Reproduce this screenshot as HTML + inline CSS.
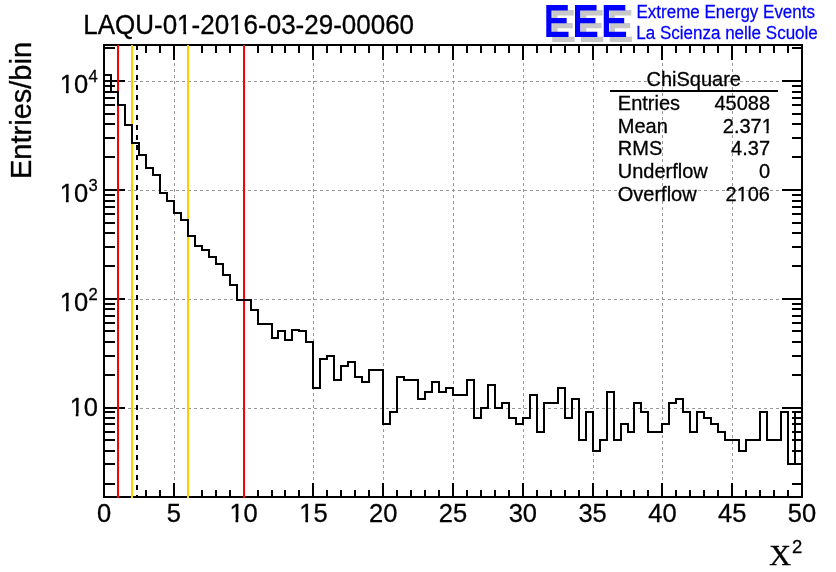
<!DOCTYPE html>
<html><head><meta charset="utf-8"><title>LAQU-01-2016-03-29-00060</title>
<style>html,body{margin:0;padding:0;background:#fff}svg{display:block}text{font-family:"Liberation Sans",sans-serif;fill:#000}</style></head><body>
<svg width="836" height="572" viewBox="0 0 836 572">
<rect width="836" height="572" fill="#fff"/>
<g stroke="#999999" stroke-width="1" stroke-dasharray="3 3" shape-rendering="crispEdges" fill="none">
<line x1="174.5" y1="45" x2="174.5" y2="497"/>
<line x1="244.5" y1="45" x2="244.5" y2="497"/>
<line x1="313.5" y1="45" x2="313.5" y2="497"/>
<line x1="383.5" y1="45" x2="383.5" y2="497"/>
<line x1="453.5" y1="45" x2="453.5" y2="497"/>
<line x1="523.5" y1="45" x2="523.5" y2="497"/>
<line x1="593.5" y1="45" x2="593.5" y2="497"/>
<line x1="662.5" y1="45" x2="662.5" y2="497"/>
<line x1="732.5" y1="45" x2="732.5" y2="497"/>
<line x1="104" y1="408.5" x2="802" y2="408.5"/>
<line x1="104" y1="299.5" x2="802" y2="299.5"/>
<line x1="104" y1="190.5" x2="802" y2="190.5"/>
<line x1="104" y1="81.5" x2="802" y2="81.5"/>
</g>
<g stroke="#000" stroke-width="2" shape-rendering="crispEdges" fill="none">
<rect x="104" y="45" width="698" height="452"/>
<line x1="104" y1="483" x2="104" y2="498"/><line x1="104" y1="44" x2="104" y2="60"/>
<line x1="118" y1="490" x2="118" y2="498"/><line x1="118" y1="44" x2="118" y2="53"/>
<line x1="132" y1="490" x2="132" y2="498"/><line x1="132" y1="44" x2="132" y2="53"/>
<line x1="146" y1="490" x2="146" y2="498"/><line x1="146" y1="44" x2="146" y2="53"/>
<line x1="160" y1="490" x2="160" y2="498"/><line x1="160" y1="44" x2="160" y2="53"/>
<line x1="174" y1="483" x2="174" y2="498"/><line x1="174" y1="44" x2="174" y2="60"/>
<line x1="188" y1="490" x2="188" y2="498"/><line x1="188" y1="44" x2="188" y2="53"/>
<line x1="202" y1="490" x2="202" y2="498"/><line x1="202" y1="44" x2="202" y2="53"/>
<line x1="216" y1="490" x2="216" y2="498"/><line x1="216" y1="44" x2="216" y2="53"/>
<line x1="230" y1="490" x2="230" y2="498"/><line x1="230" y1="44" x2="230" y2="53"/>
<line x1="244" y1="483" x2="244" y2="498"/><line x1="244" y1="44" x2="244" y2="60"/>
<line x1="258" y1="490" x2="258" y2="498"/><line x1="258" y1="44" x2="258" y2="53"/>
<line x1="272" y1="490" x2="272" y2="498"/><line x1="272" y1="44" x2="272" y2="53"/>
<line x1="285" y1="490" x2="285" y2="498"/><line x1="285" y1="44" x2="285" y2="53"/>
<line x1="299" y1="490" x2="299" y2="498"/><line x1="299" y1="44" x2="299" y2="53"/>
<line x1="313" y1="483" x2="313" y2="498"/><line x1="313" y1="44" x2="313" y2="60"/>
<line x1="327" y1="490" x2="327" y2="498"/><line x1="327" y1="44" x2="327" y2="53"/>
<line x1="341" y1="490" x2="341" y2="498"/><line x1="341" y1="44" x2="341" y2="53"/>
<line x1="355" y1="490" x2="355" y2="498"/><line x1="355" y1="44" x2="355" y2="53"/>
<line x1="369" y1="490" x2="369" y2="498"/><line x1="369" y1="44" x2="369" y2="53"/>
<line x1="383" y1="483" x2="383" y2="498"/><line x1="383" y1="44" x2="383" y2="60"/>
<line x1="397" y1="490" x2="397" y2="498"/><line x1="397" y1="44" x2="397" y2="53"/>
<line x1="411" y1="490" x2="411" y2="498"/><line x1="411" y1="44" x2="411" y2="53"/>
<line x1="425" y1="490" x2="425" y2="498"/><line x1="425" y1="44" x2="425" y2="53"/>
<line x1="439" y1="490" x2="439" y2="498"/><line x1="439" y1="44" x2="439" y2="53"/>
<line x1="453" y1="483" x2="453" y2="498"/><line x1="453" y1="44" x2="453" y2="60"/>
<line x1="467" y1="490" x2="467" y2="498"/><line x1="467" y1="44" x2="467" y2="53"/>
<line x1="481" y1="490" x2="481" y2="498"/><line x1="481" y1="44" x2="481" y2="53"/>
<line x1="495" y1="490" x2="495" y2="498"/><line x1="495" y1="44" x2="495" y2="53"/>
<line x1="509" y1="490" x2="509" y2="498"/><line x1="509" y1="44" x2="509" y2="53"/>
<line x1="523" y1="483" x2="523" y2="498"/><line x1="523" y1="44" x2="523" y2="60"/>
<line x1="537" y1="490" x2="537" y2="498"/><line x1="537" y1="44" x2="537" y2="53"/>
<line x1="551" y1="490" x2="551" y2="498"/><line x1="551" y1="44" x2="551" y2="53"/>
<line x1="565" y1="490" x2="565" y2="498"/><line x1="565" y1="44" x2="565" y2="53"/>
<line x1="579" y1="490" x2="579" y2="498"/><line x1="579" y1="44" x2="579" y2="53"/>
<line x1="593" y1="483" x2="593" y2="498"/><line x1="593" y1="44" x2="593" y2="60"/>
<line x1="607" y1="490" x2="607" y2="498"/><line x1="607" y1="44" x2="607" y2="53"/>
<line x1="621" y1="490" x2="621" y2="498"/><line x1="621" y1="44" x2="621" y2="53"/>
<line x1="634" y1="490" x2="634" y2="498"/><line x1="634" y1="44" x2="634" y2="53"/>
<line x1="648" y1="490" x2="648" y2="498"/><line x1="648" y1="44" x2="648" y2="53"/>
<line x1="662" y1="483" x2="662" y2="498"/><line x1="662" y1="44" x2="662" y2="60"/>
<line x1="676" y1="490" x2="676" y2="498"/><line x1="676" y1="44" x2="676" y2="53"/>
<line x1="690" y1="490" x2="690" y2="498"/><line x1="690" y1="44" x2="690" y2="53"/>
<line x1="704" y1="490" x2="704" y2="498"/><line x1="704" y1="44" x2="704" y2="53"/>
<line x1="718" y1="490" x2="718" y2="498"/><line x1="718" y1="44" x2="718" y2="53"/>
<line x1="732" y1="483" x2="732" y2="498"/><line x1="732" y1="44" x2="732" y2="60"/>
<line x1="746" y1="490" x2="746" y2="498"/><line x1="746" y1="44" x2="746" y2="53"/>
<line x1="760" y1="490" x2="760" y2="498"/><line x1="760" y1="44" x2="760" y2="53"/>
<line x1="774" y1="490" x2="774" y2="498"/><line x1="774" y1="44" x2="774" y2="53"/>
<line x1="788" y1="490" x2="788" y2="498"/><line x1="788" y1="44" x2="788" y2="53"/>
<line x1="802" y1="483" x2="802" y2="498"/><line x1="802" y1="44" x2="802" y2="60"/>
<line x1="103" y1="484" x2="115" y2="484"/><line x1="792" y1="484" x2="803" y2="484"/>
<line x1="103" y1="464" x2="115" y2="464"/><line x1="792" y1="464" x2="803" y2="464"/>
<line x1="103" y1="451" x2="115" y2="451"/><line x1="792" y1="451" x2="803" y2="451"/>
<line x1="103" y1="440" x2="115" y2="440"/><line x1="792" y1="440" x2="803" y2="440"/>
<line x1="103" y1="432" x2="115" y2="432"/><line x1="792" y1="432" x2="803" y2="432"/>
<line x1="103" y1="424" x2="115" y2="424"/><line x1="792" y1="424" x2="803" y2="424"/>
<line x1="103" y1="418" x2="115" y2="418"/><line x1="792" y1="418" x2="803" y2="418"/>
<line x1="103" y1="412" x2="115" y2="412"/><line x1="792" y1="412" x2="803" y2="412"/>
<line x1="103" y1="408" x2="125" y2="408"/><line x1="782" y1="408" x2="803" y2="408"/>
<line x1="103" y1="375" x2="115" y2="375"/><line x1="792" y1="375" x2="803" y2="375"/>
<line x1="103" y1="356" x2="115" y2="356"/><line x1="792" y1="356" x2="803" y2="356"/>
<line x1="103" y1="342" x2="115" y2="342"/><line x1="792" y1="342" x2="803" y2="342"/>
<line x1="103" y1="331" x2="115" y2="331"/><line x1="792" y1="331" x2="803" y2="331"/>
<line x1="103" y1="323" x2="115" y2="323"/><line x1="792" y1="323" x2="803" y2="323"/>
<line x1="103" y1="316" x2="115" y2="316"/><line x1="792" y1="316" x2="803" y2="316"/>
<line x1="103" y1="309" x2="115" y2="309"/><line x1="792" y1="309" x2="803" y2="309"/>
<line x1="103" y1="304" x2="115" y2="304"/><line x1="792" y1="304" x2="803" y2="304"/>
<line x1="103" y1="299" x2="125" y2="299"/><line x1="782" y1="299" x2="803" y2="299"/>
<line x1="103" y1="266" x2="115" y2="266"/><line x1="792" y1="266" x2="803" y2="266"/>
<line x1="103" y1="247" x2="115" y2="247"/><line x1="792" y1="247" x2="803" y2="247"/>
<line x1="103" y1="233" x2="115" y2="233"/><line x1="792" y1="233" x2="803" y2="233"/>
<line x1="103" y1="223" x2="115" y2="223"/><line x1="792" y1="223" x2="803" y2="223"/>
<line x1="103" y1="214" x2="115" y2="214"/><line x1="792" y1="214" x2="803" y2="214"/>
<line x1="103" y1="207" x2="115" y2="207"/><line x1="792" y1="207" x2="803" y2="207"/>
<line x1="103" y1="201" x2="115" y2="201"/><line x1="792" y1="201" x2="803" y2="201"/>
<line x1="103" y1="195" x2="115" y2="195"/><line x1="792" y1="195" x2="803" y2="195"/>
<line x1="103" y1="190" x2="125" y2="190"/><line x1="782" y1="190" x2="803" y2="190"/>
<line x1="103" y1="157" x2="115" y2="157"/><line x1="792" y1="157" x2="803" y2="157"/>
<line x1="103" y1="138" x2="115" y2="138"/><line x1="792" y1="138" x2="803" y2="138"/>
<line x1="103" y1="124" x2="115" y2="124"/><line x1="792" y1="124" x2="803" y2="124"/>
<line x1="103" y1="114" x2="115" y2="114"/><line x1="792" y1="114" x2="803" y2="114"/>
<line x1="103" y1="105" x2="115" y2="105"/><line x1="792" y1="105" x2="803" y2="105"/>
<line x1="103" y1="98" x2="115" y2="98"/><line x1="792" y1="98" x2="803" y2="98"/>
<line x1="103" y1="92" x2="115" y2="92"/><line x1="792" y1="92" x2="803" y2="92"/>
<line x1="103" y1="86" x2="115" y2="86"/><line x1="792" y1="86" x2="803" y2="86"/>
<line x1="103" y1="81" x2="125" y2="81"/><line x1="782" y1="81" x2="803" y2="81"/>
<line x1="103" y1="48" x2="115" y2="48"/><line x1="792" y1="48" x2="803" y2="48"/>
</g>
<g stroke-width="2" shape-rendering="crispEdges">
<line x1="118" y1="45" x2="118" y2="498" stroke="#ff0000"/>
<line x1="244" y1="45" x2="244" y2="498" stroke="#ff0000"/>
<line x1="132" y1="45" x2="132" y2="498" stroke="#ffcc00"/>
<line x1="188" y1="45" x2="188" y2="498" stroke="#ffcc00"/>
<line x1="137" y1="45" x2="137" y2="498" stroke="#000" stroke-dasharray="5 5"/>
</g>
<path d="M104 497 L104 75 L111 75 L111 92 L118 92 L118 105 L125 105 L125 125 L132 125 L132 143 L139 143 L139 155 L146 155 L146 168 L153 168 L153 175 L160 175 L160 193 L167 193 L167 201 L174 201 L174 213 L181 213 L181 220 L188 220 L188 236 L195 236 L195 246 L202 246 L202 250 L209 250 L209 257 L216 257 L216 264 L223 264 L223 275 L230 275 L230 285 L237 285 L237 300 L244 300 L244 300 L251 300 L251 310 L258 310 L258 324 L265 324 L265 324 L272 324 L272 338 L278 338 L278 331 L285 331 L285 340 L292 340 L292 330 L299 330 L299 331 L306 331 L306 342 L313 342 L313 388 L320 388 L320 359 L327 359 L327 356 L334 356 L334 380 L341 380 L341 366 L348 366 L348 362 L355 362 L355 377 L362 377 L362 382 L369 382 L369 370 L376 370 L376 370 L383 370 L383 424 L390 424 L390 412 L397 412 L397 377 L404 377 L404 380 L411 380 L411 380 L418 380 L418 399 L425 399 L425 392 L432 392 L432 382 L439 382 L439 392 L446 392 L446 388 L453 388 L453 395 L460 395 L460 395 L467 395 L467 380 L474 380 L474 418 L481 418 L481 408 L488 408 L488 385 L495 385 L495 408 L502 408 L502 403 L509 403 L509 418 L516 418 L516 424 L523 424 L523 418 L530 418 L530 395 L537 395 L537 432 L544 432 L544 403 L551 403 L551 403 L558 403 L558 388 L565 388 L565 418 L572 418 L572 399 L579 399 L579 440 L586 440 L586 412 L593 412 L593 451 L600 451 L600 440 L607 440 L607 392 L614 392 L614 440 L621 440 L621 424 L628 424 L628 432 L634 432 L634 403 L641 403 L641 412 L648 412 L648 432 L655 432 L655 432 L662 432 L662 424 L669 424 L669 403 L676 403 L676 399 L683 399 L683 412 L690 412 L690 432 L697 432 L697 412 L704 412 L704 418 L711 418 L711 424 L718 424 L718 432 L725 432 L725 440 L732 440 L732 440 L739 440 L739 451 L746 451 L746 440 L753 440 L753 440 L760 440 L760 412 L767 412 L767 440 L774 440 L774 440 L781 440 L781 412 L788 412 L788 464 L795 464 L795 464 L802 464 L802 497" fill="none" stroke="#000" stroke-width="2" stroke-linejoin="miter" stroke-linecap="square" shape-rendering="crispEdges"/>
<line x1="795" y1="412" x2="795" y2="464" stroke="#000" stroke-width="2" shape-rendering="crispEdges"/>
<text transform="translate(104.0,521.5) scale(1.0,1.04)" font-size="25.5px" text-anchor="middle" style="fill:#000;stroke:#000;stroke-width:0.3px" >0</text>
<text transform="translate(173.8,521.5) scale(1.0,1.04)" font-size="25.5px" text-anchor="middle" style="fill:#000;stroke:#000;stroke-width:0.3px" >5</text>
<text transform="translate(243.6,521.5) scale(1.0,1.04)" font-size="25.5px" text-anchor="middle" style="fill:#000;stroke:#000;stroke-width:0.3px" >10</text><rect x="229.91" y="519.00" width="5.62" height="4.00" fill="#fff"/><rect x="238.23" y="519.00" width="5.53" height="4.00" fill="#fff"/>
<text transform="translate(313.4,521.5) scale(1.0,1.04)" font-size="25.5px" text-anchor="middle" style="fill:#000;stroke:#000;stroke-width:0.3px" >15</text><rect x="299.71" y="519.00" width="5.62" height="4.00" fill="#fff"/><rect x="308.03" y="519.00" width="5.53" height="4.00" fill="#fff"/>
<text transform="translate(383.2,521.5) scale(1.0,1.04)" font-size="25.5px" text-anchor="middle" style="fill:#000;stroke:#000;stroke-width:0.3px" >20</text>
<text transform="translate(453.0,521.5) scale(1.0,1.04)" font-size="25.5px" text-anchor="middle" style="fill:#000;stroke:#000;stroke-width:0.3px" >25</text>
<text transform="translate(522.8,521.5) scale(1.0,1.04)" font-size="25.5px" text-anchor="middle" style="fill:#000;stroke:#000;stroke-width:0.3px" >30</text>
<text transform="translate(592.6,521.5) scale(1.0,1.04)" font-size="25.5px" text-anchor="middle" style="fill:#000;stroke:#000;stroke-width:0.3px" >35</text>
<text transform="translate(662.4,521.5) scale(1.0,1.04)" font-size="25.5px" text-anchor="middle" style="fill:#000;stroke:#000;stroke-width:0.3px" >40</text>
<text transform="translate(732.2,521.5) scale(1.0,1.04)" font-size="25.5px" text-anchor="middle" style="fill:#000;stroke:#000;stroke-width:0.3px" >45</text>
<text transform="translate(802.0,521.5) scale(1.0,1.04)" font-size="25.5px" text-anchor="middle" style="fill:#000;stroke:#000;stroke-width:0.3px" >50</text>
<text transform="translate(88.2,92.7) scale(1.0,1.04)" font-size="25.5px" text-anchor="end" style="fill:#000;stroke:#000;stroke-width:0.3px" >10</text><rect x="60.33" y="90.00" width="5.62" height="4.00" fill="#fff"/><rect x="68.65" y="90.00" width="5.53" height="4.00" fill="#fff"/>
<text transform="translate(88.4,81.9) scale(1.0,1.04)" font-size="16.6px" text-anchor="start" style="fill:#000;stroke:#000;stroke-width:0.3px" >4</text>
<text transform="translate(88.2,201.7) scale(1.0,1.04)" font-size="25.5px" text-anchor="end" style="fill:#000;stroke:#000;stroke-width:0.3px" >10</text><rect x="60.33" y="199.00" width="5.62" height="4.00" fill="#fff"/><rect x="68.65" y="199.00" width="5.53" height="4.00" fill="#fff"/>
<text transform="translate(88.4,190.9) scale(1.0,1.04)" font-size="16.6px" text-anchor="start" style="fill:#000;stroke:#000;stroke-width:0.3px" >3</text>
<text transform="translate(88.2,310.7) scale(1.0,1.04)" font-size="25.5px" text-anchor="end" style="fill:#000;stroke:#000;stroke-width:0.3px" >10</text><rect x="60.33" y="308.00" width="5.62" height="4.00" fill="#fff"/><rect x="68.65" y="308.00" width="5.53" height="4.00" fill="#fff"/>
<text transform="translate(88.4,299.9) scale(1.0,1.04)" font-size="16.6px" text-anchor="start" style="fill:#000;stroke:#000;stroke-width:0.3px" >2</text>
<text transform="translate(98,416) scale(1.0,1.04)" font-size="25.5px" text-anchor="end" style="fill:#000;stroke:#000;stroke-width:0.3px" >10</text><rect x="70.13" y="413.00" width="5.62" height="4.00" fill="#fff"/><rect x="78.45" y="413.00" width="5.53" height="4.00" fill="#fff"/>
<text transform="translate(83.2,34) scale(1.0,1.04)" font-size="26px" text-anchor="start" style="fill:#000;stroke:#000;stroke-width:0.3px" >LAQU-01-2016-03-29-00060</text><rect x="177.64" y="31.00" width="5.72" height="4.00" fill="#fff"/><rect x="186.11" y="31.00" width="5.63" height="4.00" fill="#fff"/><rect x="229.67" y="31.00" width="5.72" height="4.00" fill="#fff"/><rect x="238.14" y="31.00" width="5.63" height="4.00" fill="#fff"/>
<text transform="translate(31.4,179) rotate(-90) scale(1,1.0)" font-size="29px" style="stroke:#000;stroke-width:0.3px">Entries/bin</text>
<text transform="translate(769.3,564.9) scale(1,1.0)" font-size="30px" style="font-family:'Liberation Serif',serif;stroke:#000;stroke-width:0.4px">X</text>
<text transform="translate(792,552.7) scale(1.0,1.04)" font-size="18.5px" text-anchor="start" style="fill:#000;stroke:#000;stroke-width:0.3px" >2</text>
<text transform="translate(693.7,86) scale(1.0,1.04)" font-size="20px" text-anchor="middle" style="fill:#000;stroke:#000;stroke-width:0.3px" >ChiSquare</text>
<line x1="610" y1="91" x2="778" y2="91" stroke="#000" stroke-width="2" shape-rendering="crispEdges"/>
<text transform="translate(617.8,109.7) scale(1.0,1.04)" font-size="20px" text-anchor="start" style="fill:#000;stroke:#000;stroke-width:0.3px" >Entries</text>
<text transform="translate(770,109.7) scale(1.0,1.04)" font-size="20px" text-anchor="end" style="fill:#000;stroke:#000;stroke-width:0.3px" >45088</text>
<text transform="translate(617.8,132.6) scale(1.0,1.04)" font-size="20px" text-anchor="start" style="fill:#000;stroke:#000;stroke-width:0.3px" >Mean</text>
<text transform="translate(772.8,132.6) scale(1.0,1.04)" font-size="20px" text-anchor="end" style="fill:#000;stroke:#000;stroke-width:0.3px" >2.371</text><rect x="761.96" y="130.00" width="4.45" height="4.00" fill="#fff"/><rect x="768.62" y="130.00" width="4.45" height="4.00" fill="#fff"/>
<text transform="translate(617.8,155.4) scale(1.0,1.04)" font-size="20px" text-anchor="start" style="fill:#000;stroke:#000;stroke-width:0.3px" >RMS</text>
<text transform="translate(770,155.4) scale(1.0,1.04)" font-size="20px" text-anchor="end" style="fill:#000;stroke:#000;stroke-width:0.3px" >4.37</text>
<text transform="translate(617.8,178.2) scale(1.0,1.04)" font-size="20px" text-anchor="start" style="fill:#000;stroke:#000;stroke-width:0.3px" >Underflow</text>
<text transform="translate(770,178.2) scale(1.0,1.04)" font-size="20px" text-anchor="end" style="fill:#000;stroke:#000;stroke-width:0.3px" >0</text>
<text transform="translate(617.8,201.1) scale(1.0,1.04)" font-size="20px" text-anchor="start" style="fill:#000;stroke:#000;stroke-width:0.3px" >Overflow</text>
<text transform="translate(770,201.1) scale(1.0,1.04)" font-size="20px" text-anchor="end" style="fill:#000;stroke:#000;stroke-width:0.3px" >2106</text><rect x="736.91" y="199.00" width="4.45" height="4.00" fill="#fff"/><rect x="743.58" y="199.00" width="4.45" height="4.00" fill="#fff"/>
<text transform="translate(550.0,41) scale(0.85,0.972)" font-size="44.7px" letter-spacing="3.95" style="fill:#c8c8c8;stroke:#c8c8c8;stroke-width:2.06px;stroke-linejoin:miter;text-rendering:geometricPrecision">EEE</text>
<text transform="translate(544.0,36) scale(0.85,0.972)" font-size="44.7px" letter-spacing="3.95" style="fill:#0000ff;stroke:#0000ff;stroke-width:2.06px;stroke-linejoin:miter;text-rendering:geometricPrecision">EEE</text>
<text transform="translate(636.5,17.8) scale(1.0,1.02)" font-size="17.2px" text-anchor="start" style="fill:#0000ff;stroke:#0000ff;stroke-width:0.25px" textLength="178.5" lengthAdjust="spacingAndGlyphs">Extreme Energy Events</text>
<text transform="translate(636.3,38.8) scale(1.0,1.02)" font-size="17.2px" text-anchor="start" style="fill:#0000ff;stroke:#0000ff;stroke-width:0.25px" textLength="181.5" lengthAdjust="spacingAndGlyphs">La Scienza nelle Scuole</text>
</svg></body></html>
